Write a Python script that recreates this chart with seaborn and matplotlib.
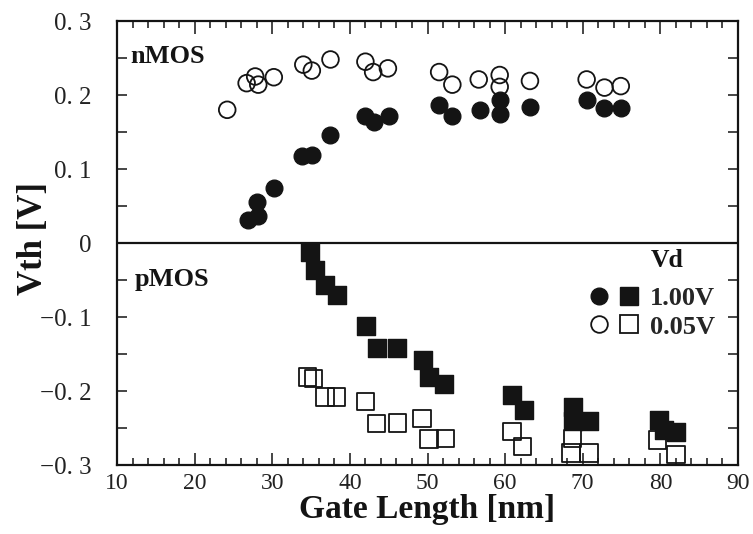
import matplotlib
matplotlib.use("Agg")
import matplotlib.pyplot as plt
from matplotlib.lines import Line2D
from matplotlib.legend_handler import HandlerTuple
from matplotlib.ticker import MultipleLocator, FixedLocator, FixedFormatter
import seaborn as sns
import pandas as pd

# ---- data ----
n_low_x = [24.2, 26.7, 28.2, 27.8, 30.2, 34.0, 35.1, 37.5, 42.0, 43.0, 44.9,
           51.5, 53.2, 56.6, 59.3, 59.3, 63.2, 70.5, 72.8, 74.9]
n_low_y = [0.180, 0.216, 0.214, 0.225, 0.224, 0.241, 0.233, 0.248, 0.245, 0.231, 0.236,
           0.231, 0.214, 0.221, 0.227, 0.211, 0.219, 0.221, 0.210, 0.212]

n_high_x = [26.9, 28.2, 28.0, 30.2, 33.8, 35.1, 37.5, 42.0, 43.1, 45.0,
            51.5, 53.2, 56.8, 59.3, 59.3, 63.2, 70.5, 72.8, 74.9]
n_high_y = [0.031, 0.036, 0.056, 0.074, 0.117, 0.119, 0.146, 0.171, 0.164, 0.171,
            0.186, 0.171, 0.180, 0.193, 0.175, 0.184, 0.193, 0.182, 0.182]

p_high_x = [34.9, 35.5, 36.8, 38.3, 42.1, 43.5, 46.1, 49.4, 50.2, 52.1,
            60.9, 62.4, 68.8, 68.7, 70.8, 79.8, 80.5, 82.0]
p_high_y = [-0.012, -0.036, -0.057, -0.070, -0.112, -0.142, -0.142, -0.158, -0.181, -0.190,
            -0.205, -0.226, -0.221, -0.241, -0.241, -0.239, -0.253, -0.255]

p_low_x = [34.5, 35.3, 36.8, 38.3, 42.0, 43.4, 46.1, 49.3, 50.2, 52.3,
           60.9, 62.2, 68.7, 68.5, 70.8, 79.6, 82.0]
p_low_y = [-0.181, -0.183, -0.208, -0.208, -0.214, -0.244, -0.243, -0.237, -0.265, -0.264,
           -0.255, -0.275, -0.264, -0.284, -0.284, -0.266, -0.286]

x_ticks = [10, 20, 30, 40, 50, 60, 70, 80, 90]
y_ticks = [0.3, 0.2, 0.1, 0.0, -0.1, -0.2, -0.3]
y_tick_labels = ["0. 3", "0. 2", "0. 1", "0", "\u22120. 1", "\u22120. 2", "\u22120. 3"]
legend_labels = ["1.00V", "0.05V"]

# ---- style ----
sns.set_theme(style="ticks")
plt.rcParams["font.family"] = ["Liberation Serif", "DejaVu Serif"]

fig = plt.figure(figsize=(7.53, 5.34), dpi=100)
ax = fig.add_axes([117 / 753, 1 - 465 / 534, 621 / 753, 444 / 534])

ink = "#141414"
s_circ = 12.0 ** 2
s_sq = 12.5 ** 2

df_nh = pd.DataFrame({"L": n_high_x, "V": n_high_y})
df_nl = pd.DataFrame({"L": n_low_x, "V": n_low_y})
df_ph = pd.DataFrame({"L": p_high_x, "V": p_high_y})
df_pl = pd.DataFrame({"L": p_low_x, "V": p_low_y})

sns.scatterplot(data=df_nh, x="L", y="V", ax=ax, marker="o", s=s_circ,
                color=ink, edgecolor=ink, linewidth=1.0, zorder=3)
sns.scatterplot(data=df_ph, x="L", y="V", ax=ax, marker="s", s=s_sq,
                color=ink, edgecolor=ink, linewidth=1.0, zorder=3)
sns.scatterplot(data=df_nl, x="L", y="V", ax=ax, marker="o", s=s_circ,
                facecolor="none", edgecolor=ink, linewidth=1.3, zorder=4)
sns.scatterplot(data=df_pl, x="L", y="V", ax=ax, marker="s", s=s_sq,
                facecolor="none", edgecolor=ink, linewidth=1.3, zorder=4)

ax.axhline(0, color=ink, lw=1.6, zorder=2)

ax.set_xlim(10, 90)
ax.set_ylim(-0.3, 0.3)

ax.xaxis.set_major_locator(FixedLocator(x_ticks))
ax.xaxis.set_minor_locator(MultipleLocator(2))
ax.yaxis.set_major_locator(FixedLocator(y_ticks))
ax.yaxis.set_major_formatter(FixedFormatter(y_tick_labels))
ax.yaxis.set_minor_locator(MultipleLocator(0.05))

ax.tick_params(axis="both", which="both", direction="in", top=True, right=True,
               color=ink, width=1.1)
ax.tick_params(axis="x", which="major", length=9, labelsize=17, pad=6)
ax.tick_params(axis="x", which="minor", length=5)
ax.tick_params(axis="y", which="both", length=7)
ax.tick_params(axis="y", which="major", labelsize=18, pad=18)
for lab in ax.get_xticklabels() + ax.get_yticklabels():
    lab.set_color("#222222")

for sp in ax.spines.values():
    sp.set_linewidth(1.6)
    sp.set_color(ink)

ax.set_xlabel("Gate Length [nm]", fontsize=24, fontweight="bold", labelpad=0, color=ink)
ax.set_ylabel("Vth [V]", fontsize=25, fontweight="bold", color=ink)
ax.yaxis.set_label_coords(-0.108, 0.51)

ax.text(11.7, 0.252, "nMOS", fontsize=19, fontweight="bold", va="center", ha="left", color=ink)
ax.text(12.3, -0.049, "pMOS", fontsize=19, fontweight="bold", va="center", ha="left", color=ink)
ax.text(80.9, -0.024, "Vd", fontsize=18.5, fontweight="bold", va="center", ha="center", color=ink)

h_hi = (Line2D([], [], ls="none", marker="o", ms=12, mfc=ink, mec=ink),
        Line2D([], [], ls="none", marker="s", ms=12.5, mfc=ink, mec=ink))
h_lo = (Line2D([], [], ls="none", marker="o", ms=12, mfc="none", mec=ink, mew=1.3),
        Line2D([], [], ls="none", marker="s", ms=12.5, mfc="none", mec=ink, mew=1.3))
leg = ax.legend([h_hi, h_lo], legend_labels,
                handler_map={tuple: HandlerTuple(ndivide=None, pad=0.3)},
                loc="upper left", bbox_to_anchor=(0.758, 0.402), frameon=False,
                borderpad=0, borderaxespad=0, handlelength=2.0, handletextpad=0.35,
                labelspacing=0.2, prop={"size": 19, "weight": "bold"})

fig.savefig("out.png", dpi=100, facecolor="white")
